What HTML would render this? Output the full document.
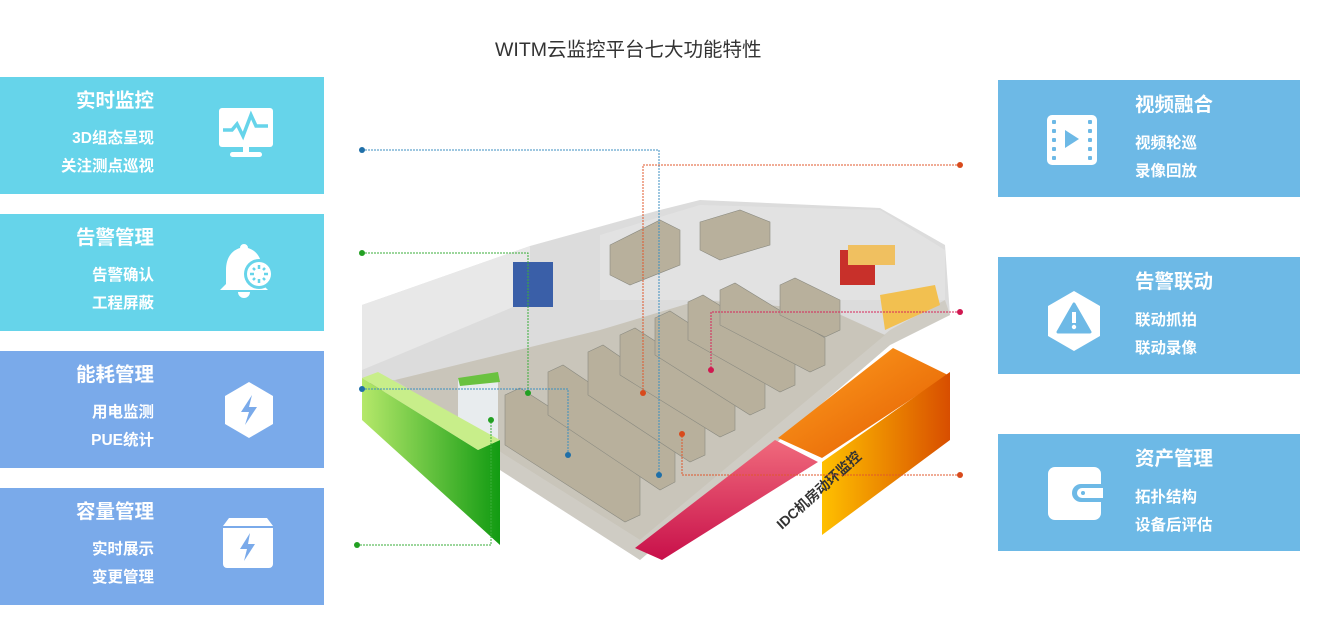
<!DOCTYPE html>
<html><head><meta charset="utf-8"><style>
body{margin:0;width:1318px;height:635px;background:#fff;position:relative;overflow:hidden;font-family:"Liberation Sans","Noto Sans CJK SC",sans-serif}
.p{position:absolute;color:#fff;font-weight:bold}
.l{left:0;width:324px;height:117px}
.r{left:998px;width:302px;height:117px;background:#6db9e6}
.t{position:absolute;font-size:19.5px;line-height:22px;white-space:nowrap}
.s{position:absolute;font-size:15.5px;line-height:18px;white-space:nowrap}
.l .t,.l .s{right:170px;text-align:right}
.r .t,.r .s{left:137px}
.ic{position:absolute}
</style></head><body>
<div style="position:absolute;left:495px;top:33px;font-size:19.5px;color:#333">WITM云监控平台七大功能特性</div>

<div class="p l" style="top:77px;background:#66d4ea">
<div class="t" style="top:13px">实时监控</div><div class="s" style="top:53px">3D组态呈现</div><div class="s" style="top:81px">关注测点巡视</div>
<svg class="ic" style="left:218px;top:30px" width="56" height="52"><rect x="1" y="1" width="54" height="39" rx="3" fill="#fff"/><polyline points="5,23 14,23 19,17 25,29 33,8 38,19 50,19" fill="none" stroke="#66d4ea" stroke-width="3.5"/><rect x="25" y="40" width="6" height="6" fill="#fff"/><rect x="12" y="45" width="32" height="5" rx="2.5" fill="#fff"/></svg>
</div>
<div class="p l" style="top:214px;background:#66d4ea">
<div class="t" style="top:13px">告警管理</div><div class="s" style="top:53px">告警确认</div><div class="s" style="top:81px">工程屏蔽</div>
<svg class="ic" style="left:218px;top:28px" width="58" height="58"><path d="M26 2a4 4 0 0 1 4 4c10 3 14 12 14 22v14l6 6H2l6-6V28c0-10 4-19 14-22a4 4 0 0 1 4-4z" fill="#fff"/><path d="M20 50h12a6 6 0 0 1-12 0z" fill="#fff"/><circle cx="41" cy="32" r="15" fill="#66d4ea"/><circle cx="41" cy="32" r="12" fill="#fff"/><g stroke="#66d4ea" stroke-width="2.5"><line x1="41" y1="23" x2="41" y2="27"/><line x1="41" y1="37" x2="41" y2="41"/><line x1="32" y1="32" x2="36" y2="32"/><line x1="46" y1="32" x2="50" y2="32"/><line x1="35" y1="26" x2="37" y2="28"/><line x1="45" y1="36" x2="47" y2="38"/><line x1="47" y1="26" x2="45" y2="28"/><line x1="35" y1="38" x2="37" y2="36"/></g></svg>
</div>
<div class="p l" style="top:351px;background:#7aaaea">
<div class="t" style="top:13px">能耗管理</div><div class="s" style="top:53px">用电监测</div><div class="s" style="top:81px">PUE统计</div>
<svg class="ic" style="left:223px;top:30px" width="52" height="58"><polygon points="26,1 50,15 50,43 26,57 2,43 2,15" fill="#fff"/><polygon points="29,14 18,31 26,31 22,44 34,26 26,26" fill="#7aaaea"/></svg>
</div>
<div class="p l" style="top:488px;background:#7aaaea">
<div class="t" style="top:13px">容量管理</div><div class="s" style="top:53px">实时展示</div><div class="s" style="top:81px">变更管理</div>
<svg class="ic" style="left:221px;top:28px" width="54" height="54"><path d="M8 2h38l6 8v38a4 4 0 0 1-4 4H6a4 4 0 0 1-4-4V10z" fill="#fff"/><line x1="2" y1="11" x2="52" y2="11" stroke="#7aaaea" stroke-width="2"/><polygon points="29,17 19,33 26,33 23,45 34,28 27,28" fill="#7aaaea"/></svg>
</div>

<div class="p r" style="top:80px">
<div class="t" style="top:14px">视频融合</div><div class="s" style="top:55px">视频轮巡</div><div class="s" style="top:83px">录像回放</div>
<svg class="ic" style="left:48px;top:34px" width="52" height="52"><rect x="1" y="1" width="50" height="50" rx="5" fill="#fff"/><g fill="#6db9e6"><rect x="6" y="6" width="4" height="4" rx="1"/><rect x="6" y="15" width="4" height="4" rx="1"/><rect x="6" y="24" width="4" height="4" rx="1"/><rect x="6" y="33" width="4" height="4" rx="1"/><rect x="6" y="42" width="4" height="4" rx="1"/><rect x="42" y="6" width="4" height="4" rx="1"/><rect x="42" y="15" width="4" height="4" rx="1"/><rect x="42" y="24" width="4" height="4" rx="1"/><rect x="42" y="33" width="4" height="4" rx="1"/><rect x="42" y="42" width="4" height="4" rx="1"/><polygon points="19,16 33,25 19,34"/></g></svg>
</div>
<div class="p r" style="top:257px">
<div class="t" style="top:14px">告警联动</div><div class="s" style="top:55px">联动抓拍</div><div class="s" style="top:83px">联动录像</div>
<svg class="ic" style="left:48px;top:33px" width="56" height="62"><polygon points="28,1 54,16 54,46 28,61 2,46 2,16" fill="#fff"/><path d="M28 14 L44 42 H12 Z" fill="#6db9e6" stroke="#6db9e6" stroke-width="3" stroke-linejoin="round"/><rect x="26" y="22" width="4" height="11" fill="#fff"/><circle cx="28" cy="37" r="2.2" fill="#fff"/></svg>
</div>
<div class="p r" style="top:434px">
<div class="t" style="top:14px">资产管理</div><div class="s" style="top:55px">拓扑结构</div><div class="s" style="top:83px">设备后评估</div>
<svg class="ic" style="left:49px;top:32px" width="56" height="56"><rect x="1" y="1" width="53" height="53" rx="7" fill="#fff"/><path d="M56 18H34a9 9 0 0 0 0 18H56" fill="#6db9e6"/><path d="M56 22H35a5 5 0 0 0 0 10H56z" fill="#fff"/><circle cx="36" cy="27" r="2" fill="#6db9e6"/></svg>
</div>

<svg style="position:absolute;left:0;top:0" width="1318" height="635">
<defs>
<linearGradient id="gr" x1="0" x2="1"><stop offset="0" stop-color="#b5e86a"/><stop offset="1" stop-color="#129b12"/></linearGradient>
<linearGradient id="pk" x1="0" y1="0" x2="0" y2="1"><stop offset="0" stop-color="#f06a7c"/><stop offset="1" stop-color="#c8104a"/></linearGradient>
<linearGradient id="or" x1="0" y1="0" x2="1" y2="0"><stop offset="0" stop-color="#ffc000"/><stop offset="1" stop-color="#d84e00"/></linearGradient>
<linearGradient id="or2" x1="0" y1="0" x2="1" y2="1"><stop offset="0" stop-color="#ffa020"/><stop offset="1" stop-color="#e25a00"/></linearGradient>
</defs>
<!-- room walls / floor -->
<polygon points="362,305 530,246 595,228 660,210 700,200 880,208 945,245 950,315 890,345 640,560 500,470 362,380" fill="#dcdcdc"/>
<polygon points="362,380 500,470 640,560 890,345 950,315 945,300 890,330 640,540 505,455 395,380" fill="#cfccc4"/>
<polygon points="395,380 505,455 640,540 885,335 830,310 700,300 600,330" fill="#c9c5ba"/>
<polygon points="362,305 530,246 530,300 362,370" fill="#e8e8e8"/>
<polygon points="600,235 700,205 880,210 945,250 945,300 600,300" fill="#e2e2e2"/>
<!-- blue screen -->
<rect x="513" y="262" width="40" height="45" fill="#3a5fa8"/>
<!-- racks -->
<g fill="#b8b09c" stroke="#8a8a80" stroke-width="0.6">
<polygon points="505,395 520,388 640,465 640,515 625,522 505,445"/>
<polygon points="548,372 563,365 675,440 675,482 660,490 548,415"/>
<polygon points="588,352 603,345 705,415 705,455 690,462 588,395"/>
<polygon points="620,335 635,328 735,393 735,430 720,437 620,375"/>
<polygon points="655,318 670,311 765,372 765,408 750,415 655,355"/>
<polygon points="688,302 703,295 795,352 795,385 780,392 688,340"/>
<polygon points="720,290 735,283 825,338 825,365 810,372 720,325"/>
<polygon points="780,285 795,278 840,300 840,330 825,337 780,315"/>
<polygon points="610,245 660,220 680,230 680,265 630,285 610,275"/>
<polygon points="700,222 740,210 770,222 770,245 720,260 700,250"/>
</g>
<rect x="840" y="250" width="35" height="35" fill="#c8302a"/>
<polygon points="880,295 935,285 940,305 885,330" fill="#f2c050"/>
<polygon points="848,245 895,245 895,265 848,265" fill="#f0c060"/>
<rect x="458" y="378" width="40" height="62" fill="#e8ecee"/>
<polygon points="458,378 498,372 500,382 460,386" fill="#6ac240"/>
<polygon points="370,380 440,440 440,445 370,386" fill="#555"/>
<!-- colored slabs -->
<polygon points="362,378 478,450 500,440 500,545 362,420" fill="url(#gr)"/>
<polygon points="362,378 378,372 500,440 478,450" fill="#c8ee8a"/>
<polygon points="775,440 818,462 662,560 635,548" fill="url(#pk)"/>
<polygon points="778,438 893,348 948,375 822,458" fill="url(#or2)"/>
<polygon points="822,462 950,372 950,440 822,535" fill="url(#or)"/>
<text x="0" y="0" transform="translate(782,530) rotate(-42)" font-size="14" font-weight="bold" fill="#333" font-family="Liberation Sans,Noto Sans CJK SC,sans-serif">IDC机房动环监控</text>
<!-- leader lines -->
<g fill="none" stroke-width="1" stroke-dasharray="2,1">
<polyline points="362,150 659,150 659,475" stroke="#3d8fc0"/>
<polyline points="362,253 528,253 528,393" stroke="#3aae3a"/>
<polyline points="362,389 568,389 568,455" stroke="#3d8fc0"/>
<polyline points="357,545 491,545 491,420" stroke="#3aae3a"/>
<polyline points="960,165 643,165 643,393" stroke="#e0582c"/>
<polyline points="960,312 711,312 711,370" stroke="#d8245a"/>
<polyline points="960,475 682,475 682,434" stroke="#e0582c"/>
</g>
<g>
<circle cx="362" cy="150" r="3" fill="#1f6fa8"/><circle cx="659" cy="475" r="3" fill="#1f6fa8"/>
<circle cx="362" cy="253" r="3" fill="#22a022"/><circle cx="528" cy="393" r="3" fill="#22a022"/>
<circle cx="362" cy="389" r="3" fill="#1f6fa8"/><circle cx="568" cy="455" r="3" fill="#1f6fa8"/>
<circle cx="357" cy="545" r="3" fill="#22a022"/><circle cx="491" cy="420" r="3" fill="#22a022"/>
<circle cx="960" cy="165" r="3" fill="#d84a1c"/><circle cx="643" cy="393" r="3" fill="#d84a1c"/>
<circle cx="960" cy="312" r="3" fill="#d01850"/><circle cx="711" cy="370" r="3" fill="#d01850"/>
<circle cx="960" cy="475" r="3" fill="#d84a1c"/><circle cx="682" cy="434" r="3" fill="#d84a1c"/>
</g>
</svg>
</body></html>
